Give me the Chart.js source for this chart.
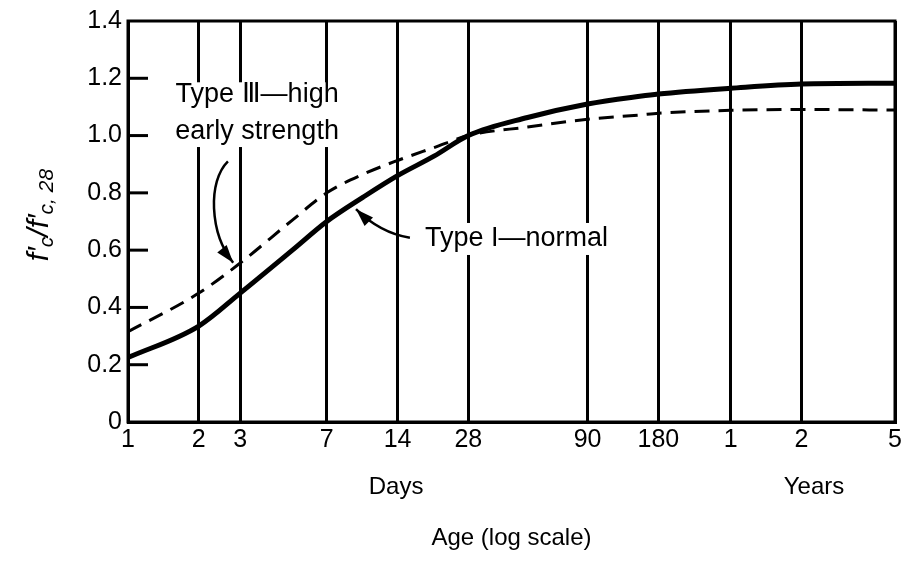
<!DOCTYPE html>
<html>
<head>
<meta charset="utf-8">
<script src="https://cdn.jsdelivr.net/npm/chart.js@4.4.0/dist/chart.umd.min.js"></script>
<style>
  html, body { margin: 0; padding: 0; background: #fff; }
  #wrap { width: 905px; height: 561px; }
</style>
</head>
<body>
<div id="wrap"><canvas id="strengthChart" width="905" height="561"></canvas></div>
<script>
// age in days, plotted on a log axis
const ageDays = [1, 2, 3, 5, 7, 10, 14, 20, 28, 50, 90, 150, 180, 365, 730, 1825];
// f'c / f'c,28
const typeNormal = [0.225, 0.335, 0.45, 0.60, 0.70, 0.785, 0.86, 0.928, 1.0, 1.063, 1.11, 1.137, 1.145, 1.165, 1.18, 1.183];
const typeHighEarly = [0.315, 0.45, 0.555, 0.705, 0.80, 0.865, 0.913, 0.958, 1.0, 1.03, 1.057, 1.072, 1.078, 1.088, 1.091, 1.089];

const ageTicks = [1, 2, 3, 7, 14, 28, 90, 180, 365, 730, 1825];
const ageTickLabels = ['1', '2', '3', '7', '14', '28', '90', '180', '1', '2', '5'];
const ratioTicks = [0, 0.2, 0.4, 0.6, 0.8, 1.0, 1.2, 1.4];

const FONT = '"Liberation Sans", Arial, sans-serif';

function toPoints(xs, ys) {
    return xs.map((x, i) => ({ x: x, y: ys[i] }));
}

// draws the frame, inner y ticks, labels and the two callouts
const extrasPlugin = {
    id: 'extras',
    afterDraw(chart) {
        const ctx = chart.ctx;
        const xs = chart.scales.x;
        const ys = chart.scales.y;
        const area = chart.chartArea;
        const px = v => xs.getPixelForValue(v);
        const py = v => ys.getPixelForValue(v);

        ctx.save();
        ctx.strokeStyle = '#000';
        ctx.fillStyle = '#000';

        // frame
        ctx.lineWidth = 3;
        ctx.strokeRect(area.left, area.top, area.right - area.left, area.bottom - area.top);

        // short y ticks pointing into the plot
        ratioTicks.forEach(v => {
            if (v === 0 || v === 1.4) return;
            ctx.beginPath();
            ctx.moveTo(area.left, py(v));
            ctx.lineTo(area.left + 20, py(v));
            ctx.stroke();
        });

        // Type III label with white backing (breaks the grid lines)
        ctx.font = '27px ' + FONT;
        ctx.textAlign = 'center';
        ctx.textBaseline = 'middle';
        const t3x = px(3.54);
        ctx.fillStyle = '#fff';
        ctx.fillRect(t3x - 90, py(1.2) + 4, 180, py(0.96) - py(1.2) - 4);
        ctx.fillStyle = '#000';
        ctx.fillText('Type \u2162\u2014high', t3x, py(1.143));
        ctx.fillText('early strength', t3x, py(1.014));

        // Type I label
        ctx.textAlign = 'left';
        const t1w = ctx.measureText('Type I\u2014normal').width;
        ctx.fillStyle = '#fff';
        ctx.fillRect(px(18.3) - 4, py(0.639) - 16, t1w + 8, 32);
        ctx.fillStyle = '#000';
        ctx.fillText('Type I\u2014normal', px(18.3), py(0.639));

        // callout arrows
        function arrowHead(fromX, fromY, tipX, tipY) {
            const a = Math.atan2(tipY - fromY, tipX - fromX);
            const len = 18, half = 6;
            ctx.beginPath();
            ctx.moveTo(tipX, tipY);
            ctx.lineTo(tipX - len * Math.cos(a) + half * Math.sin(a), tipY - len * Math.sin(a) - half * Math.cos(a));
            ctx.lineTo(tipX - len * Math.cos(a) - half * Math.sin(a), tipY - len * Math.sin(a) + half * Math.cos(a));
            ctx.closePath();
            ctx.fill();
        }
        ctx.lineWidth = 2.5;
        // Type III arrow
        let sx = px(2.66), sy = py(0.91);
        let c1x = px(2.18), c1y = py(0.84);
        let c2x = px(2.22), c2y = py(0.66);
        let tx = px(2.80), ty = py(0.556);
        ctx.beginPath();
        ctx.moveTo(sx, sy);
        ctx.bezierCurveTo(c1x, c1y, c2x, c2y, tx, ty);
        ctx.stroke();
        arrowHead(c2x, c2y, tx, ty);
        // Type I arrow
        sx = px(15.8); sy = py(0.643);
        c1x = px(11.8); c1y = py(0.66);
        tx = px(9.32); ty = py(0.743);
        ctx.beginPath();
        ctx.moveTo(sx, sy);
        ctx.quadraticCurveTo(c1x, c1y, tx, ty);
        ctx.stroke();
        arrowHead(c1x, c1y, tx, ty);

        // Days / Years captions under the tick labels
        ctx.font = '24px ' + FONT;
        ctx.textAlign = 'center';
        ctx.fillText('Days', px(13.8), 487);
        ctx.fillText('Years', px(826), 487);

        // y axis title  f'c / f'c,28
        ctx.translate(40, 215);
        ctx.rotate(-Math.PI / 2);
        const big = 'italic 30px ' + FONT;
        const small = 'italic 21px ' + FONT;
        const parts = [
            { t: 'f\u2032', f: big, dy: 0 },
            { t: 'c', f: small, dy: 7 },
            { t: '/', f: big, dy: 0 },
            { t: 'f\u2032', f: big, dy: 0 },
            { t: 'c, 28', f: small, dy: 7 }
        ];
        let total = 0;
        parts.forEach(p => { ctx.font = p.f; p.w = ctx.measureText(p.t).width; total += p.w; });
        let cx = -total / 2;
        ctx.textAlign = 'left';
        ctx.textBaseline = 'middle';
        parts.forEach(p => {
            ctx.font = p.f;
            ctx.fillText(p.t, cx, p.dy);
            cx += p.w;
        });
        ctx.restore();
    }
};

const ctx = document.getElementById('strengthChart').getContext('2d');
const strengthChart = new Chart(ctx, {
    type: 'line',
    data: {
        datasets: [{
            label: 'Type I - normal',
            data: toPoints(ageDays, typeNormal),
            borderColor: '#000',
            borderWidth: 5,
            pointRadius: 0,
            cubicInterpolationMode: 'monotone',
            fill: false
        }, {
            label: 'Type III - high early strength',
            data: toPoints(ageDays, typeHighEarly),
            borderColor: '#000',
            borderWidth: 3,
            borderDash: [15, 9],
            pointRadius: 0,
            cubicInterpolationMode: 'monotone',
            fill: false
        }]
    },
    options: {
        responsive: false,
        animation: false,
        devicePixelRatio: 1,
        layout: { padding: { top: 19, right: 10, left: 0, bottom: 0 } },
        plugins: {
            legend: { display: false },
            tooltip: { enabled: false }
        },
        scales: {
            x: {
                type: 'logarithmic',
                min: 1,
                max: 1825,
                afterBuildTicks: scale => {
                    scale.ticks = ageTicks.map(v => ({ value: v }));
                },
                afterFit: scale => { scale.height = 139; },
                ticks: {
                    autoSkip: false,
                    maxRotation: 0,
                    padding: 3,
                    color: '#000',
                    font: { family: FONT, size: 25 },
                    callback: (value, index) => ageTickLabels[index]
                },
                grid: { color: '#000', lineWidth: 3, drawTicks: false },
                border: { color: '#000', width: 3 },
                title: {
                    display: true,
                    text: 'Age (log scale)',
                    color: '#000',
                    font: { family: FONT, size: 24 },
                    padding: { top: 0, bottom: 8 }
                }
            },
            y: {
                min: 0,
                max: 1.4,
                afterBuildTicks: scale => {
                    scale.ticks = ratioTicks.map(v => ({ value: v }));
                },
                afterFit: scale => { scale.width = 128; },
                ticks: {
                    padding: 6,
                    color: '#000',
                    font: { family: FONT, size: 25 },
                    callback: value => value === 0 ? '0' : value.toFixed(1)
                },
                grid: { drawOnChartArea: false, drawTicks: false },
                border: { color: '#000', width: 3 }
            }
        }
    },
    plugins: [extrasPlugin]
});
</script>
</body>
</html>
